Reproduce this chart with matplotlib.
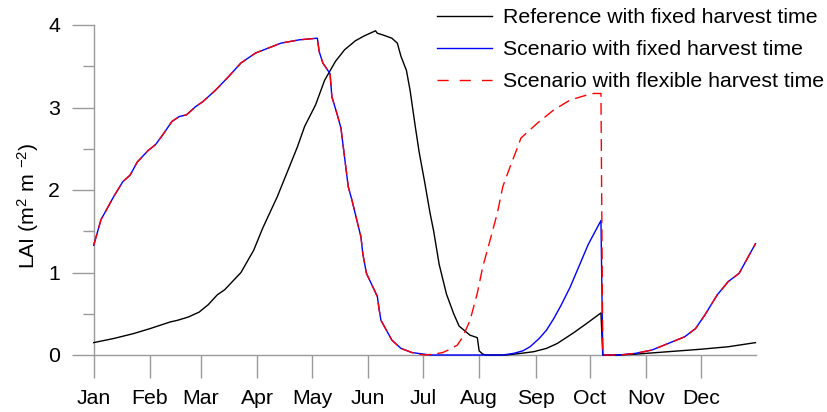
import matplotlib
matplotlib.use("Agg")
import matplotlib.pyplot as plt
from matplotlib.lines import Line2D
from matplotlib.ticker import MultipleLocator

plt.rcParams['font.family'] = ['Liberation Sans', 'DejaVu Sans']
plt.rcParams['mathtext.fontset'] = 'custom'
plt.rcParams['mathtext.rm'] = 'Liberation Sans'
plt.rcParams['mathtext.it'] = 'Liberation Sans'

# Month starts (day of year) and labels
month_days = [1, 32, 60, 91, 121, 152, 182, 213, 244, 274, 305, 335]
month_labels = ['Jan', 'Feb', 'Mar', 'Apr', 'May', 'Jun',
                'Jul', 'Aug', 'Sep', 'Oct', 'Nov', 'Dec']

# Reference with fixed harvest time
ref_day = [1, 12, 23, 32, 43, 47, 53, 59, 64, 69, 73, 82, 89, 94, 102, 113, 117,
           123, 128, 134, 139, 145, 150, 156, 157, 160, 165, 168, 170, 173, 175,
           178, 180, 183, 186, 188, 191, 195, 199, 202, 208, 212, 213, 215, 217,
           228, 236, 243, 250, 256, 265, 272, 280, 281, 290, 299, 317, 335, 350,
           365]
ref_lai = [0.15, 0.20, 0.26, 0.32, 0.40, 0.42, 0.46, 0.52, 0.61, 0.73, 0.79, 1.00,
           1.27, 1.54, 1.92, 2.52, 2.77, 3.03, 3.33, 3.56, 3.70, 3.81, 3.87, 3.93,
           3.90, 3.88, 3.84, 3.78, 3.62, 3.45, 3.21, 2.75, 2.46, 2.10, 1.72, 1.50,
           1.10, 0.74, 0.50, 0.35, 0.24, 0.21, 0.05, 0.01, 0.0,
           0.0, 0.02, 0.04, 0.08, 0.14, 0.27, 0.38, 0.51, 0.0, 0.0, 0.01, 0.04,
           0.07, 0.10, 0.15]

# Scenario with fixed harvest time
fix_day = [1, 5, 12, 17, 21, 25, 31, 35, 39, 44, 48, 52, 57, 61, 68, 75, 82, 90,
           97, 104, 114, 124, 125, 127, 131, 132, 135, 137, 138, 141, 143, 148,
           149, 151, 157, 158, 159, 165, 170, 176, 186, 226, 232, 237, 241, 246,
           250, 254, 258, 263, 268, 273, 280, 281, 290, 299, 308, 317, 326, 332,
           337, 344, 350, 356, 359, 365]
fix_lai = [1.33, 1.64, 1.92, 2.10, 2.18, 2.34, 2.48, 2.55, 2.67, 2.83, 2.89, 2.91,
           3.01, 3.07, 3.21, 3.37, 3.54, 3.66, 3.72, 3.78, 3.82, 3.84, 3.68, 3.54,
           3.41, 3.13, 2.91, 2.75, 2.57, 2.04, 1.88, 1.43, 1.23, 0.99, 0.71, 0.55,
           0.42, 0.18, 0.08, 0.03, 0.0, 0.0, 0.02, 0.05, 0.10, 0.20, 0.30, 0.44,
           0.60, 0.82, 1.08, 1.34, 1.63, 0.0, 0.0, 0.02, 0.06, 0.14, 0.22, 0.32,
           0.48, 0.73, 0.89, 0.99, 1.11, 1.35]

# Scenario with flexible harvest time: second crop grown from July
flex_mid_day = [180, 183, 188, 193, 197, 201, 204, 208, 212, 215, 219, 223, 226,
                230, 234, 236, 245, 254, 263, 272, 276, 280]
flex_mid_lai = [0.01, 0.0, 0.01, 0.03, 0.07, 0.12, 0.22, 0.42, 0.75, 1.07, 1.39,
                1.72, 2.04, 2.28, 2.51, 2.63, 2.81, 2.97, 3.09, 3.15, 3.17, 3.17]

flex_day = ([d for d in fix_day if d < flex_mid_day[0]] + flex_mid_day +
            [d for d in fix_day if d > flex_mid_day[-1]])
flex_lai = ([v for d, v in zip(fix_day, fix_lai) if d < flex_mid_day[0]] +
            flex_mid_lai +
            [v for d, v in zip(fix_day, fix_lai) if d > flex_mid_day[-1]])

series_labels = ['Reference with fixed harvest time',
                 'Scenario with fixed harvest time',
                 'Scenario with flexible harvest time']

W, H = 828, 412
fig = plt.figure(figsize=(W / 100, H / 100), dpi=100)
left_px, right_px, top_px, bot_px = 93.7, 755.5, 25, 355
ax = fig.add_axes([left_px / W, 1 - bot_px / H,
                   (right_px - left_px) / W, (bot_px - top_px) / H])
ax.set_xlim(1, 365)
ax.set_ylim(0, 4)

axis_grey = '#9a9a9a'
fs = 15.3

dash = (8.5, 4.5)
ax.plot(ref_day, ref_lai, color='black', lw=1.0, clip_on=False, zorder=3)
ax.plot(fix_day, fix_lai, color='#0000ff', lw=1.0, clip_on=False, zorder=4)
ax.plot(flex_day, flex_lai, color='#ff0000', lw=1.0, dashes=dash,
        clip_on=False, zorder=5)

for s in ['top', 'right']:
    ax.spines[s].set_visible(False)
for s in ['left', 'bottom']:
    ax.spines[s].set_color(axis_grey)
    ax.spines[s].set_linewidth(1.0)

ax.set_xticks(month_days)
ax.set_xticklabels(month_labels)
ax.tick_params(axis='x', direction='out', length=16.5, width=1.0,
               color=axis_grey, pad=8, labelsize=fs)
ax.yaxis.set_major_locator(MultipleLocator(1))
ax.yaxis.set_minor_locator(MultipleLocator(0.5))
ax.tick_params(axis='y', which='major', direction='out', length=15.6,
               width=1.0, color=axis_grey, pad=8.5, labelsize=fs)
ax.tick_params(axis='y', which='minor', direction='out', length=7.9,
               width=1.0, color=axis_grey)

ax.set_ylabel(r'LAI (m$^{2}$ m $^{-2}$)', fontsize=fs)
ax.yaxis.set_label_coords(41 / W, 0.5, transform=fig.transFigure)

handles = [Line2D([], [], color='black', lw=1.0),
           Line2D([], [], color='#0000ff', lw=1.0),
           Line2D([], [], color='#ff0000', lw=1.0, dashes=(8, 8))]
fig.legend(handles, series_labels, loc='upper left',
           bbox_to_anchor=(437 / W, 1 - 8 / H), frameon=False, fontsize=fs,
           handlelength=2.6, handletextpad=0.5, labelspacing=0.62,
           borderpad=0, borderaxespad=0)

fig.savefig('out.png', dpi=100)
